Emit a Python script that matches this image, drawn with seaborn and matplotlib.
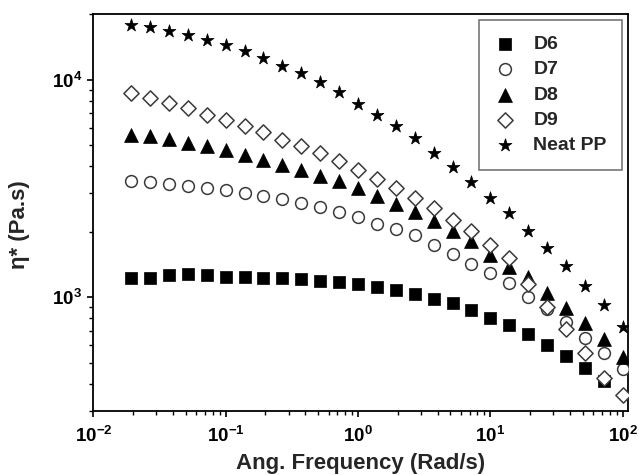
import matplotlib
matplotlib.use("Agg")
import matplotlib.pyplot as plt
import numpy as np
import seaborn as sns

# angular frequency (rad/s), 7 points per decade
freq = [0.0193, 0.0268, 0.0373, 0.0518, 0.0720, 0.100, 0.139, 0.193, 0.268,
        0.373, 0.518, 0.720, 1.00, 1.39, 1.93, 2.68, 3.73, 5.18, 7.20, 10.0,
        13.9, 19.3, 26.8, 37.3, 51.8, 72.0, 100.0]

# complex viscosity (Pa.s)
eta_d6 = [1228, 1228, 1262, 1281, 1262, 1241, 1241, 1228, 1219, 1206, 1193,
          1172, 1144, 1111, 1074, 1029, 983, 936, 872, 804, 741, 674, 600,
          536, 474, 411, np.nan]
eta_d7 = [3410, 3375, 3329, 3259, 3180, 3101, 3017, 2910, 2831, 2714, 2602,
          2458, 2340, 2181, 2062, 1941, 1733, 1587, 1428, 1285, 1156, 1004,
          884, 768, 651, 555, 469]
eta_d8 = [5590, 5490, 5341, 5120, 4939, 4734, 4522, 4290, 4070, 3860, 3622,
          3410, 3180, 2910, 2694, 2457, 2234, 2010, 1808, 1571, 1379, 1232,
          1048, 894, 762, 639, 532]
eta_d9 = [8688, 8240, 7815, 7413, 6906, 6550, 6128, 5740, 5302, 4939, 4605,
          4214, 3860, 3509, 3180, 2861, 2560, 2275, 2010, 1746, 1517, 1144,
          903, 716, 555, 426, 355]
eta_pp = [17890, 17460, 16800, 16090, 15270, 14480, 13490, 12580, 11510,
          10730, 9720, 8740, 7760, 6910, 6100, 5415, 4620, 3985, 3400, 2870,
          2450, 2025, 1675, 1385, 1131, 916, 733]

labels = ["D6", "D7", "D8", "D9", "Neat PP"]

sns.set_theme(style="ticks")
plt.rcParams.update({
    "font.family": ["Liberation Sans", "DejaVu Sans"],
    "font.weight": "bold",
    "axes.labelweight": "bold",
    "mathtext.fontset": "custom",
    "mathtext.rm": "Liberation Sans:bold",
    "mathtext.bf": "Liberation Sans:bold",
    "mathtext.it": "Liberation Sans:bold:italic",
    "mathtext.sf": "Liberation Sans:bold",
    "mathtext.default": "rm",
    "axes.linewidth": 1.3,
    "axes.edgecolor": "black",
    "xtick.color": "black",
    "ytick.color": "black",
})

# marker, size, face, edge, edge width
styles = {
    "D6": ("s", 63, "black", "black", 0.5),
    "D7": ("o", 72, "white", "#3a3a3a", 1.1),
    "D8": ("^", 100, "black", "black", 0.5),
    "D9": ("D", 60, "white", "#3a3a3a", 1.1),
    "Neat PP": ("*", 95, "black", "black", 0.5),
}

fig = plt.figure(figsize=(6.39, 4.75), dpi=100)
ax = fig.add_axes([0.146, 0.135, 0.837, 0.835])

for name, vals in zip(labels, [eta_d6, eta_d7, eta_d8, eta_d9, eta_pp]):
    m, s, fc, ec, lw = styles[name]
    sns.scatterplot(x=freq, y=vals, marker=m, s=s, color=fc, edgecolor=ec,
                    linewidth=lw, label=name, ax=ax, zorder=3)

ax.set_xscale("log")
ax.set_yscale("log")
ax.set_xlim(0.01, 110)
ax.set_ylim(300, 20000)

ax.tick_params(which="major", direction="out", length=4.5, width=1.2,
               labelsize=13.5, top=False, right=False)
ax.tick_params(which="minor", direction="out", length=2.6, width=1.0,
               top=False, right=False)
ax.tick_params(axis="x", which="major", pad=6)

ax.set_xlabel("Ang. Frequency (Rad/s)", fontsize=16, fontweight="bold",
              labelpad=5)
ax.set_ylabel("η* (Pa.s)", fontsize=16, fontweight="bold")
ax.yaxis.set_label_coords(-0.118, 0.47)

leg = ax.legend(loc="upper right", fontsize=14, frameon=True, fancybox=False,
                edgecolor="#555555", borderaxespad=0.3, handletextpad=0.9,
                labelspacing=0.39, borderpad=0.8, handlelength=1.1)
leg.get_frame().set_linewidth(1.2)
for t in leg.get_texts():
    t.set_fontweight("bold")

fig.savefig("out.png", dpi=100)
